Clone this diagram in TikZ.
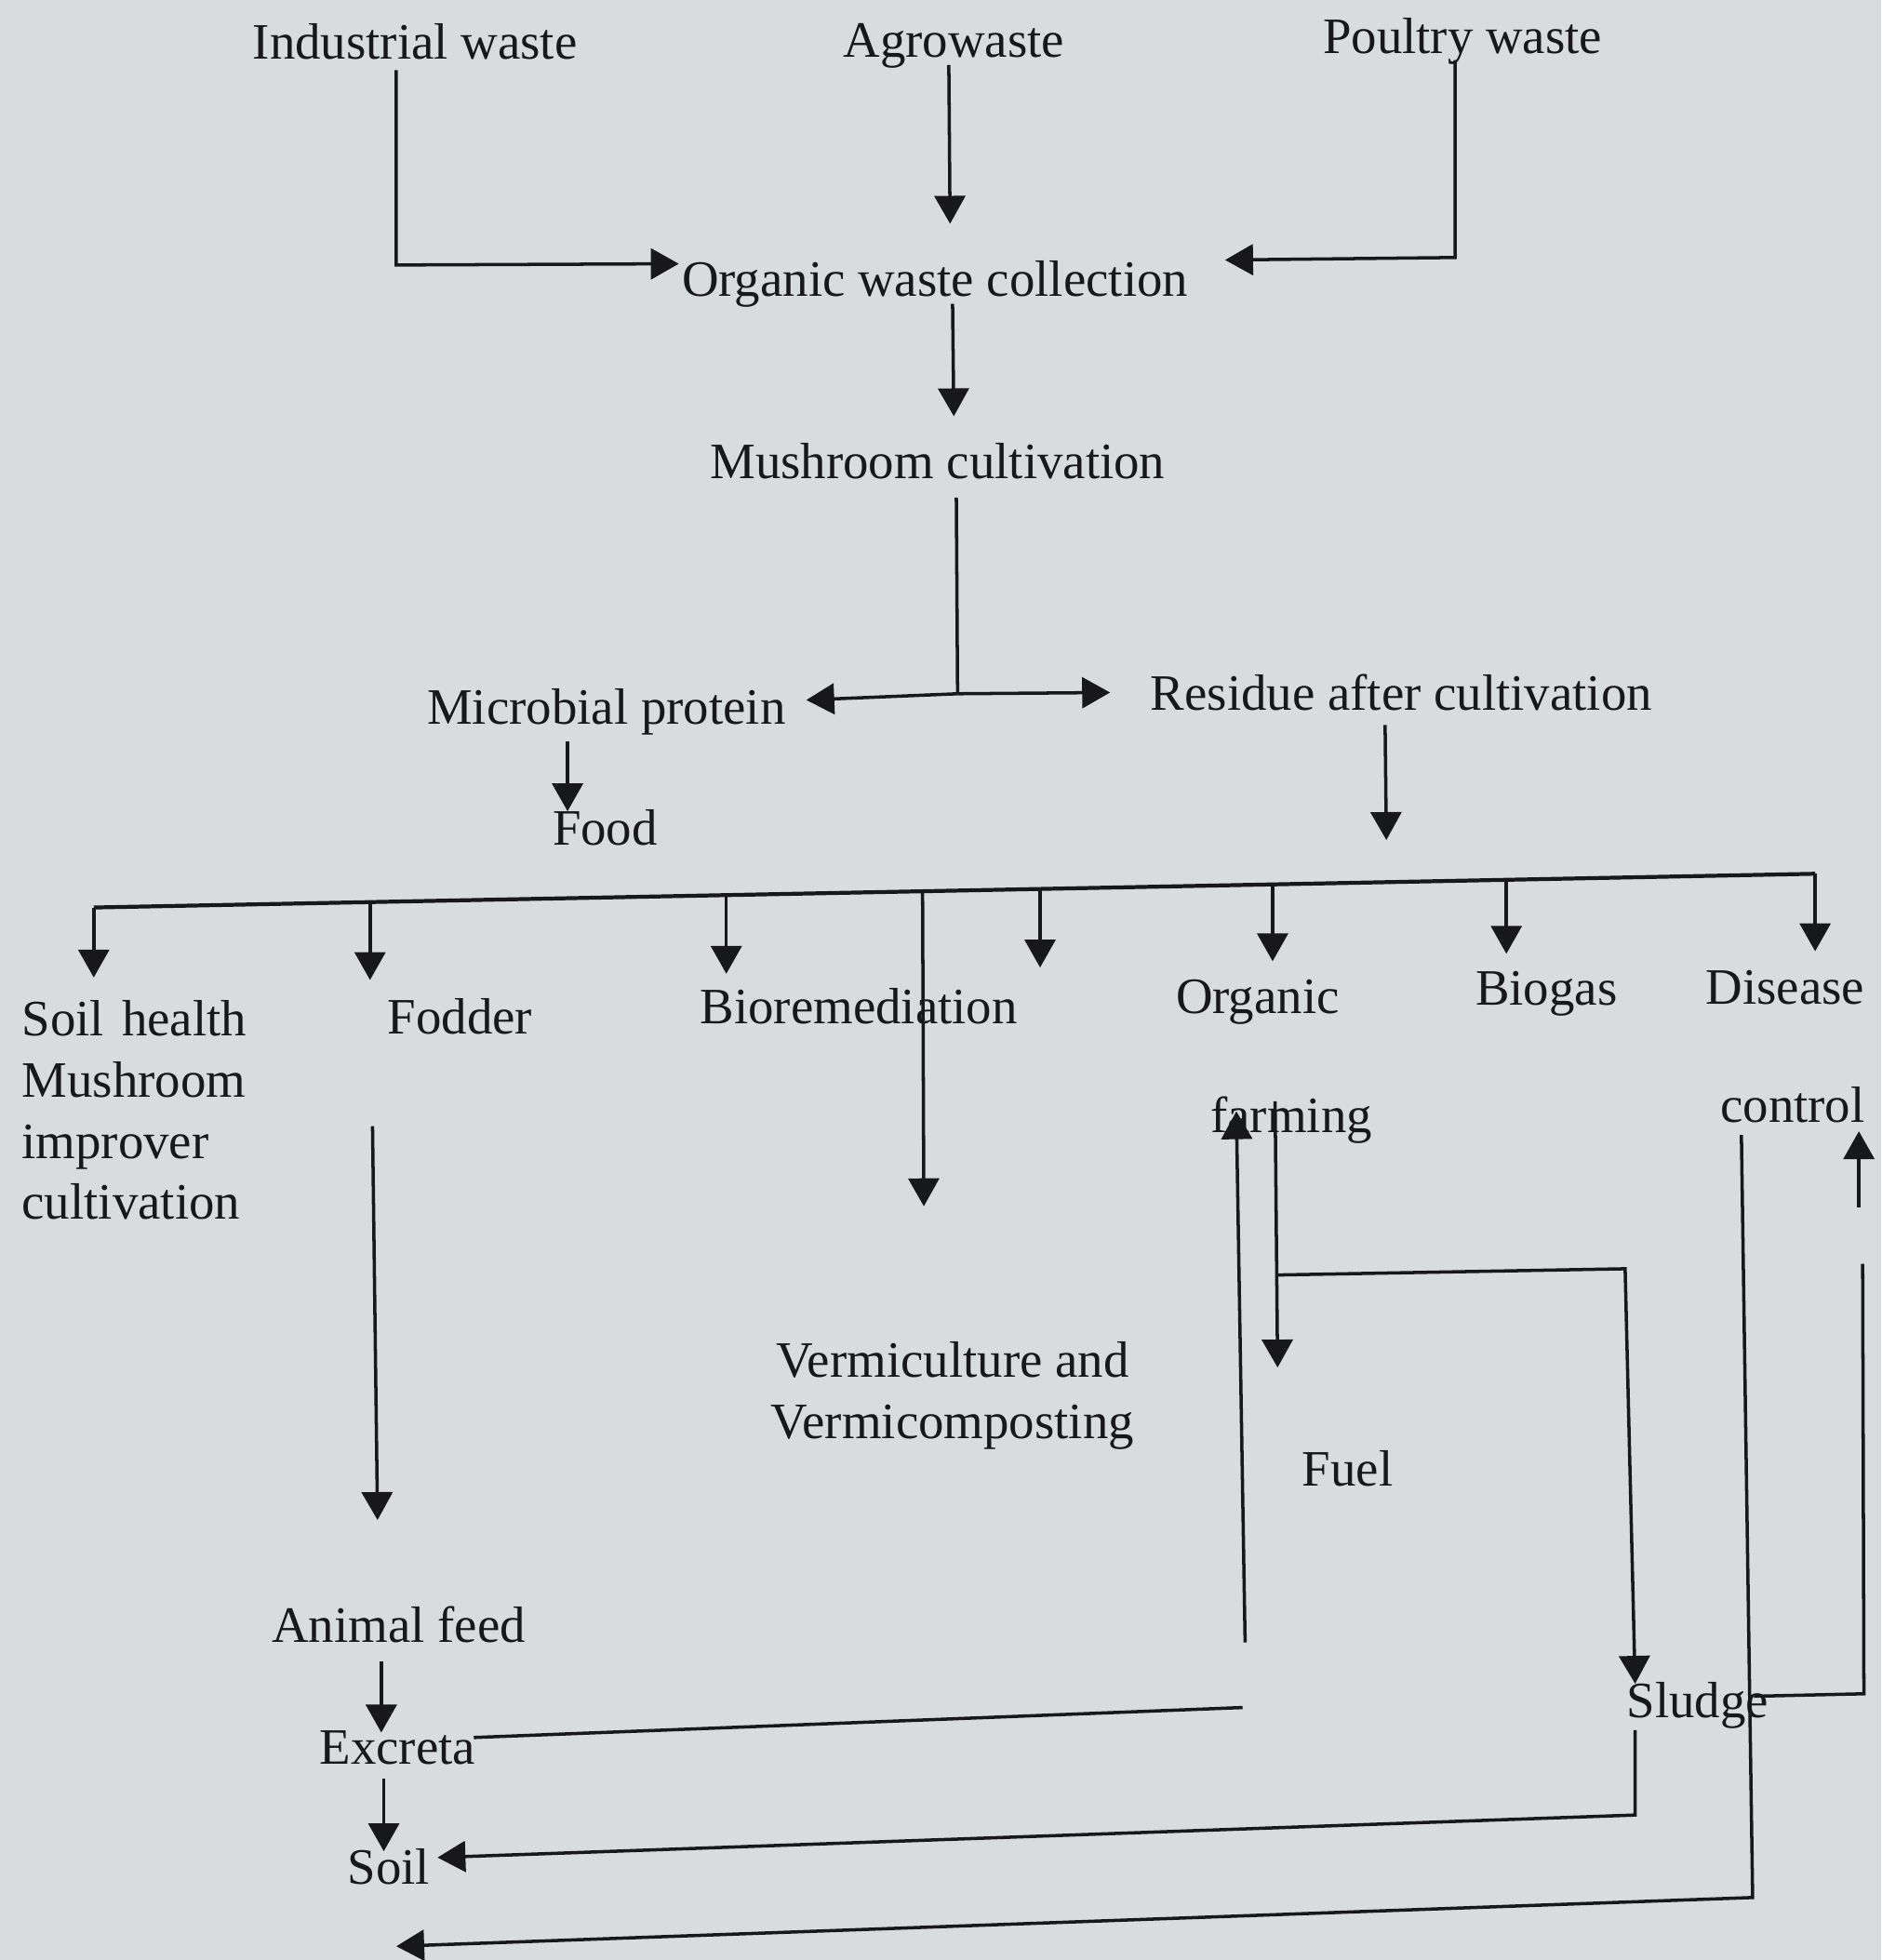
\documentclass[tikz,border=0pt]{standalone}
\usepackage{fontspec}
\setmainfont{Liberation Serif}
\usetikzlibrary{arrows.meta}
\definecolor{paper}{RGB}{217,220,223}
\definecolor{ink}{RGB}{24,24,28}

\begin{document}
\begin{tikzpicture}[x=0.13435mm, y=-0.13435mm,
  txt/.style={anchor=base, inner sep=0pt, text=ink, font=\fontsize{15.6}{18.7}\selectfont},
  block/.style={txt, anchor=north west, align=left},
  link/.style={draw=ink, line width=1pt},
  arr/.style={link, -{Triangle[length=0.3cm, width=0.33cm]}}]

  \fill[paper] (0,0) rectangle (1505,1568);
  \useasboundingbox (0,0) rectangle (1505,1568);

  % sources and main chain
  \node[txt] (ind)   at (332,47)  {Industrial waste};
  \node[txt] (agro)  at (763,46)  {Agrowaste};
  \node[txt] (poul)  at (1170,43) {Poultry waste};
  \node[txt] (coll)  at (748,237) {Organic waste collection};
  \node[txt] (mush)  at (750,383) {Mushroom cultivation};
  \node[txt] (micro) at (485,579) {Microbial protein};
  \node[txt] (resid) at (1121,568) {Residue after cultivation};
  \node[txt] (food)  at (484,676) {Food};

  % uses of the residue
  \node[block] (soilh) at (17,800) {Soil\hspace{0.1em} health\\Mushroom\\improver\\cultivation};
  \node[txt] (fodd)   at (368,827)  {Fodder};
  \node[txt] (biorem) at (687,819)  {Bioremediation};
  \node[txt] (org)    at (1006,811) {Organic};
  \node[txt] (farm)   at (1033,906) {farming};
  \node[txt] (biog)   at (1237,804) {Biogas};
  \node[txt] (dis)    at (1428,803) {Disease};
  \node[txt] (ctrl)   at (1434,898) {control};
  \node[block, anchor=north, align=center] (verm) at (762,1073) {Vermiculture and\\Vermicomposting};
  \node[txt] (fuel)   at (1078,1189) {Fuel};
  \node[txt] (feed)   at (319,1314)  {Animal feed};
  \node[txt] (excr)   at (318,1411)  {Excreta};
  \node[txt] (soil)   at (311,1507)  {Soil};
  \node[txt] (slud)   at (1358,1374) {Sludge};

  % bend and end points
  \coordinate (ind-a)   at (317,56);
  \coordinate (ind-b)   at (317,212);
  \coordinate (coll-w)  at (543,211);
  \coordinate (agro-a)  at (759,52);
  \coordinate (coll-n)  at (760,179);
  \coordinate (poul-a)  at (1164,48);
  \coordinate (poul-b)  at (1164,206);
  \coordinate (coll-e)  at (980,208);
  \coordinate (coll-s)  at (762,243);
  \coordinate (mush-n)  at (763,333);
  \coordinate (mush-s)  at (765,398);
  \coordinate (split)   at (766,555);
  \coordinate (micro-e) at (645,560);
  \coordinate (resid-w) at (888,554);
  \coordinate (micro-s) at (454,593);
  \coordinate (food-n)  at (454,649);
  \coordinate (resid-s) at (1108,580);
  \coordinate (bar-n)   at (1109,672);
  \coordinate (bar-l)   at (75,726);
  \coordinate (bar-r)   at (1452,699);

  \draw[arr] (ind-a) -- (ind-b) -- (coll-w);
  \draw[arr] (agro-a) -- (coll-n);
  \draw[arr] (poul-a) -- (poul-b) -- (coll-e);
  \draw[arr] (coll-s) -- (mush-n);
  \draw[link] (mush-s) -- (split);
  \draw[arr] (split) -- (micro-e);
  \draw[arr] (split) -- (resid-w);
  \draw[arr] (micro-s) -- (food-n);
  \draw[arr] (resid-s) -- (bar-n);

  % distribution bar
  \draw[link, line width=1.2pt] (bar-l) -- (bar-r);
  \foreach \x/\t in {75/782, 296/784, 581/779, 832/774, 1018/769, 1205/763, 1452/761}
    \draw[arr] (\x,{726-(\x-75)/1377*27}) -- (\x,\t);
  \coordinate (verm-a) at (738,713);
  \coordinate (verm-n) at (739,965);
  \draw[arr] (verm-a) -- (verm-n);

  % fodder to soil
  \coordinate (fodd-s) at (298,901);
  \coordinate (feed-n) at (302,1216);
  \coordinate (feed-s) at (305,1329);
  \coordinate (excr-n) at (305,1386);
  \coordinate (excr-s) at (307,1423);
  \coordinate (soil-n) at (307,1481);
  \draw[arr] (fodd-s) -- (feed-n);
  \draw[arr] (feed-s) -- (excr-n);
  \draw[arr] (excr-s) -- (soil-n);

  % organic farming loop
  \coordinate (excr-e)  at (379,1390);
  \coordinate (loop-c)  at (994,1366);
  \coordinate (loop-a)  at (996,1314);
  \coordinate (farm-w)  at (989,889);
  \coordinate (farm-s)  at (1020,881);
  \coordinate (fuel-n)  at (1022,1094);
  \coordinate (fork)    at (1021,1020);
  \coordinate (fork-e)  at (1300,1015);
  \coordinate (slud-n)  at (1308,1347);
  \draw[link] (excr-e) -- (loop-c);
  \draw[arr] (loop-a) -- (farm-w);
  \draw[arr] (farm-s) -- (fuel-n);
  \draw[arr] (fork) -- (fork-e) -- (slud-n);

  % sludge and disease control returns
  \coordinate (slud-s)  at (1308,1384);
  \coordinate (slud-b)  at (1308,1452);
  \coordinate (soil-e)  at (350,1486);
  \coordinate (ctrl-s)  at (1393,908);
  \coordinate (ctrl-b)  at (1402,1518);
  \coordinate (soil-b)  at (317,1557);
  \coordinate (slud-e)  at (1403,1357);
  \coordinate (up-b)    at (1491,1355);
  \coordinate (up-a)    at (1490,1011);
  \coordinate (up-c)    at (1487,966);
  \coordinate (ctrl-e)  at (1487,905);
  \draw[arr] (slud-s) -- (slud-b) -- (soil-e);
  \draw[arr] (ctrl-s) -- (ctrl-b) -- (soil-b);
  \draw[link] (slud-e) -- (up-b) -- (up-a);
  \draw[arr] (up-c) -- (ctrl-e);

\end{tikzpicture}
\end{document}
